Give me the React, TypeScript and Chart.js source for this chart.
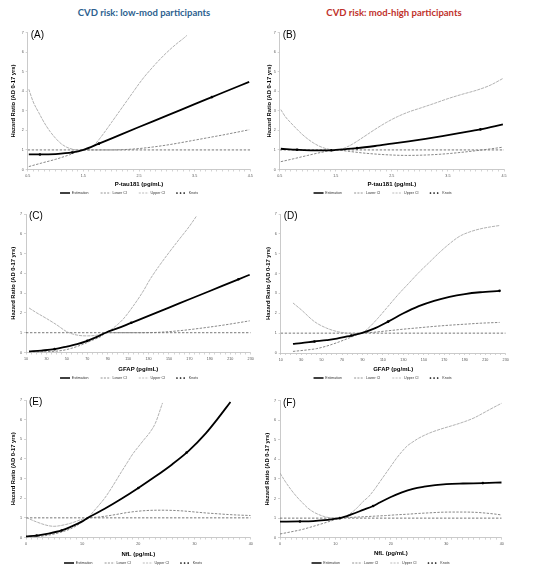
import React, { useEffect, useRef } from "react";
import { Chart, registerables } from "chart.js";

Chart.register(...registerables);

const FONT = "'Liberation Sans', Arial, sans-serif";

// ---------------- data ----------------
const Y_TICKS = [0, 1, 2, 3, 4, 5, 6, 7];
const PTAU_TICKS = [0.5, 1.5, 2.5, 3.5, 4.5];
const GFAP_TICKS = [10, 30, 50, 70, 90, 110, 130, 150, 170, 190, 210, 230];
const NFL_TICKS = [0, 10, 20, 30, 40];

// (A) P-tau181, low-mod
const A_EST_X = [0.52, 0.72, 1.0, 1.3, 1.5, 1.78, 2.0, 2.5, 3.0, 3.5, 3.81, 4.0, 4.48];
const A_EST_Y = [0.77, 0.77, 0.79, 0.87, 1.0, 1.32, 1.58, 2.17, 2.75, 3.34, 3.7, 3.92, 4.48];
const A_LOW_X = [0.52, 0.75, 1.0, 1.25, 1.5, 1.75, 2.0, 2.25, 2.5, 2.75, 3.0, 3.25, 3.5, 3.75, 4.0, 4.25, 4.48];
const A_LOW_Y = [0.15, 0.33, 0.52, 0.75, 1.0, 1.0, 1.0, 1.02, 1.07, 1.15, 1.25, 1.37, 1.5, 1.63, 1.76, 1.9, 2.03];
const A_UP_X = [0.52, 0.6, 0.7, 0.8, 0.9, 1.0, 1.1, 1.2, 1.3, 1.4, 1.5, 1.6, 1.7, 1.8, 1.9, 2.0, 2.1, 2.2, 2.3, 2.4, 2.5, 2.6, 2.7, 2.8, 2.9, 3.0, 3.1, 3.2, 3.3, 3.36];
const A_UP_Y = [4.1, 3.45, 2.9, 2.38, 1.95, 1.6, 1.32, 1.14, 1.04, 0.99, 1.0, 1.08, 1.27, 1.6, 1.98, 2.38, 2.78, 3.18, 3.58, 3.98, 4.38, 4.75, 5.08, 5.4, 5.7, 5.98, 6.24, 6.48, 6.7, 6.85];
const A_KNOT_X = [0.72, 1.3, 1.78, 3.81];
const A_KNOT_Y = [0.77, 0.87, 1.32, 3.7];

// (B) P-tau181, mod-high
const B_EST_X = [0.52, 0.81, 1.1, 1.42, 1.5, 1.88, 2.2, 2.5, 2.8, 3.1, 3.4, 3.7, 4.08, 4.48];
const B_EST_Y = [1.06, 1.01, 0.98, 0.98, 1.0, 1.09, 1.2, 1.32, 1.44, 1.57, 1.71, 1.86, 2.05, 2.3];
const B_LOW_X = [0.52, 0.75, 1.0, 1.25, 1.5, 1.75, 2.0, 2.25, 2.5, 2.75, 3.0, 3.25, 3.5, 3.75, 4.0, 4.25, 4.48];
const B_LOW_Y = [0.4, 0.55, 0.72, 0.88, 1.0, 0.92, 0.84, 0.78, 0.74, 0.72, 0.73, 0.76, 0.81, 0.88, 0.96, 1.05, 1.14];
const B_UP_X = [0.52, 0.6, 0.7, 0.8, 0.9, 1.0, 1.1, 1.2, 1.3, 1.4, 1.5, 1.6, 1.7, 1.8, 1.9, 2.0, 2.2, 2.4, 2.6, 2.8, 3.0, 3.25, 3.5, 3.75, 4.0, 4.25, 4.48];
const B_UP_Y = [3.06, 2.7, 2.38, 2.08, 1.8, 1.56, 1.36, 1.2, 1.09, 1.02, 1.0, 1.04, 1.15, 1.3, 1.48, 1.67, 2.05, 2.4, 2.7, 2.94, 3.13, 3.37, 3.62, 3.84, 4.04, 4.3, 4.65];
const B_KNOT_X = [0.81, 1.42, 1.88, 4.08];
const B_KNOT_Y = [1.01, 0.98, 1.09, 2.05];

// (C) GFAP, low-mod
const C_EST_X = [13, 25, 38, 50, 60, 70, 80, 88, 100, 113, 130, 150, 170, 190, 218, 229];
const C_EST_Y = [0.05, 0.1, 0.17, 0.3, 0.42, 0.59, 0.8, 1.0, 1.23, 1.5, 1.85, 2.27, 2.69, 3.11, 3.7, 3.93];
const C_LOW_X = [13, 30, 45, 55, 65, 75, 85, 88, 100, 120, 140, 160, 180, 200, 215, 229];
const C_LOW_Y = [0.02, 0.04, 0.1, 0.22, 0.4, 0.62, 0.86, 1.0, 1.0, 1.0, 1.02, 1.1, 1.22, 1.36, 1.48, 1.6];
const C_UP_X = [13, 20, 30, 40, 50, 60, 70, 80, 88, 95, 105, 115, 125, 131, 140, 150, 160, 170, 177];
const C_UP_Y = [2.25, 2.02, 1.72, 1.4, 1.05, 0.88, 0.84, 0.88, 1.0, 1.22, 1.68, 2.35, 3.12, 3.66, 4.35, 5.05, 5.72, 6.38, 6.9];
const C_KNOT_X = [38, 70, 113, 218];
const C_KNOT_Y = [0.17, 0.59, 1.5, 3.7];

// (D) GFAP, mod-high
const D_EST_X = [22, 30, 43, 55, 65, 79, 89, 100, 115, 130, 145, 160, 175, 190, 205, 224];
const D_EST_Y = [0.46, 0.5, 0.58, 0.65, 0.72, 0.88, 1.0, 1.2, 1.58, 2.0, 2.36, 2.63, 2.83, 2.97, 3.06, 3.13];
const D_LOW_X = [22, 35, 45, 55, 65, 79, 89, 100, 115, 130, 145, 160, 175, 190, 205, 224];
const D_LOW_Y = [0.08, 0.15, 0.22, 0.35, 0.52, 0.8, 1.0, 1.04, 1.12, 1.2, 1.27, 1.34, 1.4, 1.45, 1.5, 1.54];
const D_UP_X = [22, 30, 43, 55, 66, 75, 82, 89, 95, 105, 115, 125, 135, 145, 155, 165, 175, 185, 195, 205, 215, 224];
const D_UP_Y = [2.52, 2.18, 1.58, 1.25, 1.07, 1.0, 0.98, 1.0, 1.22, 1.75, 2.35, 2.95, 3.5, 4.05, 4.55, 5.05, 5.5, 5.88, 6.1, 6.25, 6.35, 6.42];
const D_KNOT_X = [43, 79, 115, 224];
const D_KNOT_Y = [0.58, 0.88, 1.58, 3.13];

// (E) NfL, low-mod
const E_EST_X = [0, 1.9, 4, 6.35, 8, 10, 11, 14, 17, 20, 23, 26, 29, 32, 34, 36.4];
const E_EST_Y = [0.05, 0.1, 0.2, 0.36, 0.55, 0.82, 1.0, 1.46, 1.97, 2.52, 3.1, 3.72, 4.42, 5.3, 6.0, 6.9];
const E_LOW_X = [0, 2, 4, 6, 8, 10, 11, 12, 14, 16, 18, 20, 22, 24, 26, 28, 30, 32, 34, 36, 38, 40];
const E_LOW_Y = [0.02, 0.05, 0.12, 0.25, 0.45, 0.78, 1.0, 1.02, 1.08, 1.17, 1.27, 1.34, 1.38, 1.39, 1.38, 1.35, 1.3, 1.25, 1.21, 1.17, 1.14, 1.12];
const E_UP_X = [0, 2, 4, 5, 6, 8, 10, 11, 12, 13, 14, 15, 16, 17, 18, 19, 20, 21, 22, 23, 24.3];
const E_UP_Y = [1.02, 0.78, 0.6, 0.57, 0.6, 0.73, 0.93, 1.0, 1.32, 1.65, 2.0, 2.42, 2.88, 3.35, 3.8, 4.25, 4.62, 4.98, 5.33, 5.8, 6.85];
const E_KNOT_X = [1.9, 6.35, 20, 28.6];
const E_KNOT_Y = [0.1, 0.36, 2.52, 4.33];

// (F) NfL, mod-high
const F_EST_X = [0, 3.6, 6, 8, 10, 10.8, 13, 15, 16.8, 18, 20, 22, 24, 26, 28, 30, 33, 36.6, 40];
const F_EST_Y = [0.82, 0.83, 0.85, 0.9, 0.97, 1.0, 1.2, 1.42, 1.62, 1.8, 2.08, 2.32, 2.5, 2.61, 2.69, 2.74, 2.77, 2.79, 2.82];
const F_LOW_X = [0, 2, 4, 6, 8, 10, 10.8, 13, 15, 17, 19, 21, 23, 25, 27, 29, 31, 33, 35, 37, 39, 40];
const F_LOW_Y = [0.19, 0.3, 0.42, 0.58, 0.75, 0.93, 1.0, 1.04, 1.07, 1.1, 1.13, 1.17, 1.2, 1.24, 1.27, 1.3, 1.31, 1.31, 1.3, 1.26, 1.2, 1.16];
const F_UP_X = [0, 1, 2, 3, 4, 5, 6, 7, 8, 9, 10.8, 12, 13, 14, 15, 16, 17, 18, 19, 20, 21, 22, 23, 24, 25, 27, 29, 31, 33, 35, 37, 38.5, 40];
const F_UP_Y = [3.3, 2.85, 2.45, 2.1, 1.8, 1.52, 1.32, 1.18, 1.08, 1.02, 1.0, 1.12, 1.3, 1.55, 1.85, 2.1, 2.45, 2.85, 3.25, 3.65, 4.05, 4.4, 4.7, 4.9, 5.08, 5.35, 5.55, 5.72, 5.9, 6.12, 6.42, 6.65, 6.87];
const F_KNOT_X = [3.6, 10.8, 16.8, 36.6];
const F_KNOT_Y = [0.83, 1.0, 1.62, 2.79];

const Y_TITLE = "Hazard Ratio (AD 0-17 yrs)";
const LEGEND_TEXT = ["Estimation", "Lower CI", "Upper CI", "Knots"];

// ---------------- styles / layout ----------------
const LEG_FONT = 3.6;
const LEG_PAD = 12;
const LEG_BOXW = 10;
const XT_FONT = 6;
const YT_FONT = 5.8;
const TICK_FONT = 3.7;

const ST_EST = { color: "#000000", width: 1.8, dash: [] as number[] };
const ST_LOW = { color: "#7a7a7a", width: 0.9, dash: [2.4, 1.4] };
const ST_UP = { color: "#a9a9a9", width: 0.9, dash: [3.2, 0.9] };
const ST_REF = { color: "#555555", width: 0.8, dash: [2.4, 1.6] };

type Panel = {
  label: string;
  xTitle: string;
  xMin: number;
  xMax: number;
  minorStep: number;
  majors: number[];
  decimals: number;
  est: [number[], number[]];
  low: [number[], number[]];
  up: [number[], number[]];
  knots: [number[], number[]];
  box: { plotL: number; plotR: number; plotT: number; plotB: number; legCx: number; legCy: number; titleCy: number; yTitleCx: number };
};

const PANELS: Panel[] = [
  { label: "(A)", xTitle: "P-tau181 (pg/mL)", xMin: 0.5, xMax: 4.5, minorStep: 0.1, majors: PTAU_TICKS, decimals: 1,
    est: [A_EST_X, A_EST_Y], low: [A_LOW_X, A_LOW_Y], up: [A_UP_X, A_UP_Y], knots: [A_KNOT_X, A_KNOT_Y],
    box: { plotL: 27.7, plotR: 250.3, plotT: 32.5, plotB: 169.5, legCx: 129, legCy: 193, titleCy: 184, yTitleCx: 13 } },
  { label: "(B)", xTitle: "P-tau181 (pg/mL)", xMin: 0.5, xMax: 4.5, minorStep: 0.1, majors: PTAU_TICKS, decimals: 1,
    est: [B_EST_X, B_EST_Y], low: [B_LOW_X, B_LOW_Y], up: [B_UP_X, B_UP_Y], knots: [B_KNOT_X, B_KNOT_Y],
    box: { plotL: 279.7, plotR: 504, plotT: 32.5, plotB: 169.5, legCx: 382.5, legCy: 193, titleCy: 184, yTitleCx: 269.5 } },
  { label: "(C)", xTitle: "GFAP (pg/mL)", xMin: 10, xMax: 230, minorStep: 5, majors: GFAP_TICKS, decimals: 0,
    est: [C_EST_X, C_EST_Y], low: [C_LOW_X, C_LOW_Y], up: [C_UP_X, C_UP_Y], knots: [C_KNOT_X, C_KNOT_Y],
    box: { plotL: 26, plotR: 250.7, plotT: 214, plotB: 352.5, legCx: 129, legCy: 378, titleCy: 369, yTitleCx: 13.3 } },
  { label: "(D)", xTitle: "GFAP (pg/mL)", xMin: 10, xMax: 230, minorStep: 5, majors: GFAP_TICKS, decimals: 0,
    est: [D_EST_X, D_EST_Y], low: [D_LOW_X, D_LOW_Y], up: [D_UP_X, D_UP_Y], knots: [D_KNOT_X, D_KNOT_Y],
    box: { plotL: 280.7, plotR: 505.7, plotT: 214, plotB: 353, legCx: 382.5, legCy: 378, titleCy: 369, yTitleCx: 268 } },
  { label: "(E)", xTitle: "NfL (pg/mL)", xMin: 0, xMax: 40, minorStep: 1, majors: NFL_TICKS, decimals: 0,
    est: [E_EST_X, E_EST_Y], low: [E_LOW_X, E_LOW_Y], up: [E_UP_X, E_UP_Y], knots: [E_KNOT_X, E_KNOT_Y],
    box: { plotL: 26, plotR: 250.7, plotT: 400, plotB: 537.5, legCx: 133, legCy: 563, titleCy: 554, yTitleCx: 13 } },
  { label: "(F)", xTitle: "NfL (pg/mL)", xMin: 0, xMax: 40, minorStep: 1, majors: NFL_TICKS, decimals: 0,
    est: [F_EST_X, F_EST_Y], low: [F_LOW_X, F_LOW_Y], up: [F_UP_X, F_UP_Y], knots: [F_KNOT_X, F_KNOT_Y],
    box: { plotL: 280, plotR: 501.7, plotT: 400.7, plotB: 537.7, legCx: 380.5, legCy: 563, titleCy: 553.5, yTitleCx: 267 } },
];

const pts = (xs: number[], ys: number[]) => xs.map((x, i) => ({ x, y: ys[i] }));

const panelLabelPlugin = {
  id: "panelLabel",
  afterDraw(chart: any, _args: any, opts: any) {
    const { ctx, chartArea } = chart;
    ctx.save();
    ctx.font = `10px ${FONT}`;
    ctx.fillStyle = "#000";
    ctx.textBaseline = "middle";
    ctx.textAlign = "left";
    ctx.fillText(opts.text, chartArea.left + 3, chartArea.top + 2.5);
    ctx.restore();
  },
};

function computeLayout(b: Panel["box"]) {
  const legH = LEG_FONT + LEG_PAD + 10;
  const legCenterOff = LEG_PAD + LEG_FONT / 2;
  const rawLeft = 2 * b.legCx - b.plotR;
  const canvasLeft = Math.max(0, Math.min(Math.floor(rawLeft), Math.floor(b.yTitleCx - 6)));
  const padL = rawLeft - canvasLeft;
  const width = Math.ceil(b.plotR + 12 - canvasLeft);
  const padR = canvasLeft + width - b.plotR;
  const canvasTop = Math.floor(b.plotT - 12);
  const padT = b.plotT - canvasTop;
  const xAxisH = b.legCy - legCenterOff - b.plotB;
  const rawH = padT + (b.plotB - b.plotT) + xAxisH + legH;
  const height = Math.ceil(rawH);
  const padB = height - rawH;
  const yAxisW = b.plotL - rawLeft;
  const yTitlePad = b.yTitleCx - rawLeft - (YT_FONT * 1.2) / 2;
  const xTitlePadB = xAxisH - (b.titleCy - b.plotB) - (XT_FONT * 1.2) / 2;
  return { canvasLeft, canvasTop, width, height, padL, padR, padT, padB, xAxisH, yAxisW, yTitlePad, xTitlePadB };
}

function PanelChart({ p }: { p: Panel }) {
  const ref = useRef<HTMLCanvasElement | null>(null);
  const L = computeLayout(p.box);

  useEffect(() => {
    if (!ref.current) return;
    const line = (label: string, xs: number[], ys: number[], st: { color: string; width: number; dash: number[] }) => ({
      type: "line" as const,
      label,
      data: pts(xs, ys),
      borderColor: st.color,
      backgroundColor: st.color,
      borderWidth: st.width,
      borderDash: st.dash,
      pointRadius: 0,
      fill: false,
      cubicInterpolationMode: "monotone" as const,
    });
    const isMajor = (v: number) => p.majors.some((m) => Math.abs(m - v) < 1e-6);
    const chart = new Chart(ref.current, {
      type: "line",
      data: {
        datasets: [
          {
            type: "line",
            label: "Knots",
            data: pts(p.knots[0], p.knots[1]),
            showLine: false,
            pointRadius: 1.3,
            pointBackgroundColor: "#000",
            pointBorderColor: "#000",
            pointBorderWidth: 0,
          } as any,
          line("Estimation", p.est[0], p.est[1], ST_EST),
          line("Lower CI", p.low[0], p.low[1], ST_LOW),
          line("Upper CI", p.up[0], p.up[1], ST_UP),
          { ...line("ref", [p.xMin, p.xMax], [1, 1], ST_REF), cubicInterpolationMode: "default" },
        ],
      },
      options: {
        animation: false,
        responsive: false,
        events: [],
        layout: { padding: { left: L.padL, right: L.padR, top: L.padT, bottom: L.padB }, autoPadding: false },
        plugins: {
          tooltip: { enabled: false },
          legend: {
            position: "bottom",
            labels: {
              usePointStyle: true,
              pointStyleWidth: LEG_BOXW,
              padding: LEG_PAD,
              color: "#333",
              font: { size: LEG_FONT, family: FONT },
              generateLabels: () => [
                { text: LEGEND_TEXT[0], pointStyle: "line", strokeStyle: ST_EST.color, fillStyle: ST_EST.color, lineWidth: 1.5, lineDash: [], hidden: false, fontColor: "#333", datasetIndex: 1 },
                { text: LEGEND_TEXT[1], pointStyle: "line", strokeStyle: ST_LOW.color, fillStyle: ST_LOW.color, lineWidth: 0.8, lineDash: [2, 1.3], hidden: false, fontColor: "#333", datasetIndex: 2 },
                { text: LEGEND_TEXT[2], pointStyle: "line", strokeStyle: ST_UP.color, fillStyle: ST_UP.color, lineWidth: 0.8, lineDash: [2, 1.3], hidden: false, fontColor: "#333", datasetIndex: 3 },
                { text: LEGEND_TEXT[3], pointStyle: "line", strokeStyle: "#000", fillStyle: "#000", lineWidth: 1.7, lineDash: [0, 3.6], lineCap: "round", hidden: false, fontColor: "#333", datasetIndex: 0 },
              ] as any,
            },
          },
          panelLabel: { text: p.label },
        } as any,
        scales: {
          x: {
            type: "linear",
            min: p.xMin,
            max: p.xMax,
            afterFit: (s: any) => {
              s.height = L.xAxisH;
            },
            ticks: {
              stepSize: p.minorStep,
              autoSkip: false,
              maxRotation: 0,
              padding: 2.5,
              color: "#555",
              font: { size: TICK_FONT, family: FONT },
              callback: (v: any) => (isMajor(Number(v)) ? Number(v).toFixed(p.decimals) : ""),
            },
            grid: { drawOnChartArea: false, tickLength: 2, color: "#b5b5b5", lineWidth: 0.6 },
            border: { color: "#bdbdbd", width: 0.8 },
            title: {
              display: true,
              text: p.xTitle,
              color: "#000",
              font: { size: XT_FONT, weight: "bold", family: FONT },
              padding: { top: 0, bottom: L.xTitlePadB },
            },
          },
          y: {
            type: "linear",
            min: 0,
            max: 7,
            afterFit: (s: any) => {
              s.width = L.yAxisW;
            },
            ticks: {
              stepSize: 1,
              padding: 2,
              color: "#555",
              font: { size: TICK_FONT, family: FONT },
              callback: (v: any) => (Y_TICKS.includes(Number(v)) ? String(v) : ""),
            },
            grid: { drawOnChartArea: false, tickLength: 2, color: "#b5b5b5", lineWidth: 0.6 },
            border: { color: "#bdbdbd", width: 0.8 },
            title: {
              display: true,
              text: Y_TITLE,
              color: "#000",
              font: { size: YT_FONT, weight: "bold", family: FONT },
              padding: { top: L.yTitlePad, bottom: 0 },
            },
          },
        },
      } as any,
      plugins: [panelLabelPlugin as any],
    });
    return () => chart.destroy();
  }, []);

  return (
    <canvas
      ref={ref}
      width={L.width}
      height={L.height}
      style={{ position: "absolute", left: L.canvasLeft, top: L.canvasTop, width: L.width, height: L.height }}
    />
  );
}

const titleStyle = (cx: number, color: string): React.CSSProperties => ({
  position: "absolute",
  left: cx,
  top: 13,
  transform: "translate(-50%, -50%)",
  whiteSpace: "nowrap",
  fontFamily: "Lato, 'Open Sans', sans-serif",
  fontWeight: 700,
  fontSize: 9.5,
  color,
  lineHeight: 1,
});

export default function App() {
  return (
    <div style={{ position: "absolute", left: 0, top: 0, width: 533, height: 575, background: "#fff", overflow: "hidden" }}>
      <div style={titleStyle(144, "#2d5f8f")}>CVD risk: low-mod participants</div>
      <div style={titleStyle(394, "#c0312b")}>CVD risk: mod-high participants</div>
      {PANELS.map((p) => (
        <PanelChart key={p.label} p={p} />
      ))}
    </div>
  );
}
